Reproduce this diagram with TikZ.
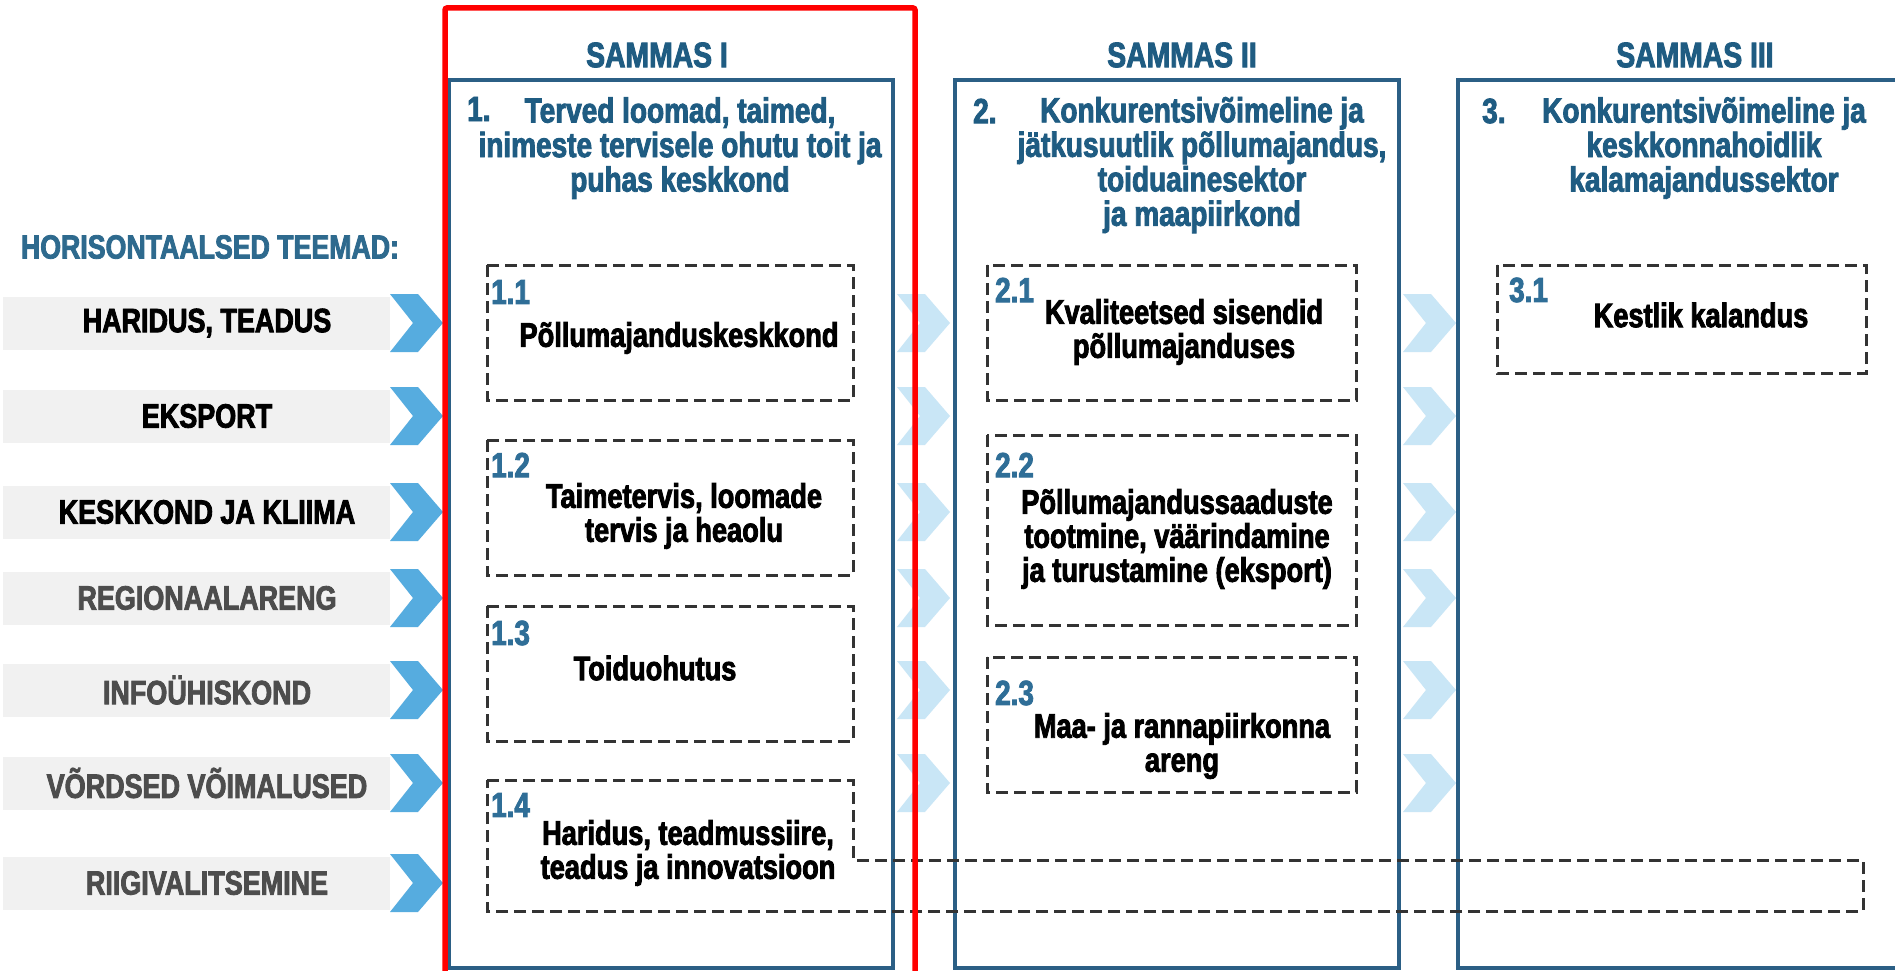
\documentclass[tikz,border=0pt]{standalone}
\usepackage{fontspec}
\newfontfamily\condfont{Liberation Sans}[FakeStretch=0.8, FakeBold=2.5]

\definecolor{pillarblue}{HTML}{2B5F85}
\definecolor{headblue}{HTML}{1F5C82}
\definecolor{topicblue}{HTML}{2E6A8E}
\definecolor{numblue}{HTML}{2F6E97}
\definecolor{chevblue}{HTML}{56ACDF}
\definecolor{chevpale}{HTML}{C9E6F6}
\definecolor{bandgray}{HTML}{F1F1F1}
\definecolor{dashgray}{HTML}{333333}
\definecolor{themegray}{HTML}{4D4D4D}

\begin{document}
\begin{tikzpicture}[x=1pt, y=-1pt,
	every node/.style={inner sep=0pt},
	pillar/.style={draw=pillarblue, line width=3.5pt},
	subbox/.style={draw=dashgray, line width=3pt, dash pattern=on 12pt off 6pt},
	chev/.style={fill=chevblue},
	palechev/.style={fill=chevpale},
	band/.style={fill=bandgray},
	theme/.style={text=#1, font=\condfont\bfseries\fontsize{33.7}{36}\selectfont},
	topic/.style={text=topicblue, font=\condfont\bfseries\fontsize{33.4}{36}\selectfont},
	head/.style={text=headblue, font=\condfont\bfseries\fontsize{35.4}{40}\selectfont},
	title/.style={text=headblue, align=center, font=\condfont\bfseries\fontsize{35}{34.5}\selectfont},
	num/.style={text=numblue, anchor=west, font=\condfont\bfseries\fontsize{34.8}{40}\selectfont},
	item/.style={align=center, font=\condfont\bfseries\fontsize{34}{34}\selectfont}]
	\useasboundingbox[fill=white] (0,0) rectangle (1895,971);

	% Horizontal themes, bands and chevrons:
	\fill[band] (3,297) rectangle (390,350);
	\fill[band] (3,390) rectangle (390,443);
	\fill[band] (3,486) rectangle (390,539);
	\fill[band] (3,572) rectangle (390,625);
	\fill[band] (3,664) rectangle (390,717);
	\fill[band] (3,757) rectangle (390,810);
	\fill[band] (3,857) rectangle (390,910);
	\fill[chev] (390,294) -- ++(28,0) -- ++(25,29) -- ++(-25,29) -- ++(-28,0) -- ++(23,-29) -- cycle;
	\fill[chev] (390,387) -- ++(28,0) -- ++(25,29) -- ++(-25,29) -- ++(-28,0) -- ++(23,-29) -- cycle;
	\fill[chev] (390,483) -- ++(28,0) -- ++(25,29) -- ++(-25,29) -- ++(-28,0) -- ++(23,-29) -- cycle;
	\fill[chev] (390,569) -- ++(28,0) -- ++(25,29) -- ++(-25,29) -- ++(-28,0) -- ++(23,-29) -- cycle;
	\fill[chev] (390,661) -- ++(28,0) -- ++(25,29) -- ++(-25,29) -- ++(-28,0) -- ++(23,-29) -- cycle;
	\fill[chev] (390,754) -- ++(28,0) -- ++(25,29) -- ++(-25,29) -- ++(-28,0) -- ++(23,-29) -- cycle;
	\fill[chev] (390,854) -- ++(28,0) -- ++(25,29) -- ++(-25,29) -- ++(-28,0) -- ++(23,-29) -- cycle;
	\draw node[topic] (HT) at (210,247) {HORISONTAALSED TEEMAD:};
	\draw node[theme=black] (T1) at (207,323) {HARIDUS, TEADUS};
	\draw node[theme=black] (T2) at (207,416) {EKSPORT};
	\draw node[theme=black] (T3) at (207,512) {KESKKOND JA KLIIMA};
	\draw node[theme=themegray] (T4) at (207,598) {REGIONAALARENG};
	\draw node[theme=themegray] (T5) at (207,690) {INFOÜHISKOND};
	\draw node[theme=themegray] (T6) at (207,783) {VÕRDSED VÕIMALUSED};
	\draw node[theme=themegray] (T7) at (207,883) {RIIGIVALITSEMINE};

	% Pale chevrons between pillars:
	\fill[palechev] (897,294) -- ++(28,0) -- ++(25,29) -- ++(-25,29) -- ++(-28,0) -- ++(23,-29) -- cycle;
	\fill[palechev] (897,387) -- ++(28,0) -- ++(25,29) -- ++(-25,29) -- ++(-28,0) -- ++(23,-29) -- cycle;
	\fill[palechev] (897,483) -- ++(28,0) -- ++(25,29) -- ++(-25,29) -- ++(-28,0) -- ++(23,-29) -- cycle;
	\fill[palechev] (897,569) -- ++(28,0) -- ++(25,29) -- ++(-25,29) -- ++(-28,0) -- ++(23,-29) -- cycle;
	\fill[palechev] (897,661) -- ++(28,0) -- ++(25,29) -- ++(-25,29) -- ++(-28,0) -- ++(23,-29) -- cycle;
	\fill[palechev] (897,754) -- ++(28,0) -- ++(25,29) -- ++(-25,29) -- ++(-28,0) -- ++(23,-29) -- cycle;
	\fill[palechev] (1403,294) -- ++(28,0) -- ++(25,29) -- ++(-25,29) -- ++(-28,0) -- ++(23,-29) -- cycle;
	\fill[palechev] (1403,387) -- ++(28,0) -- ++(25,29) -- ++(-25,29) -- ++(-28,0) -- ++(23,-29) -- cycle;
	\fill[palechev] (1403,483) -- ++(28,0) -- ++(25,29) -- ++(-25,29) -- ++(-28,0) -- ++(23,-29) -- cycle;
	\fill[palechev] (1403,569) -- ++(28,0) -- ++(25,29) -- ++(-25,29) -- ++(-28,0) -- ++(23,-29) -- cycle;
	\fill[palechev] (1403,661) -- ++(28,0) -- ++(25,29) -- ++(-25,29) -- ++(-28,0) -- ++(23,-29) -- cycle;
	\fill[palechev] (1403,754) -- ++(28,0) -- ++(25,29) -- ++(-25,29) -- ++(-28,0) -- ++(23,-29) -- cycle;

	% Pillars:
	\draw[pillar] (449,80) rectangle (893,968);
	\draw[pillar] (955,80) rectangle (1399,968);
	\draw[pillar] (1458,80) rectangle (1905,968);
	\draw node[head] (H1) at (657,55) {SAMMAS I};
	\draw node[head] (H2) at (1182,55) {SAMMAS II};
	\draw node[head] (H3) at (1695,55) {SAMMAS III};
	\draw node[title, anchor=west] (N1) at (467,109) {1.};
	\draw node[title] (P1) at (680,148) {Terved loomad, taimed,\\inimeste tervisele ohutu toit ja\\puhas keskkond};
	\draw node[title, anchor=west] (N2) at (973,111) {2.};
	\draw node[title] (P2) at (1202,165) {Konkurentsivõimeline ja\\jätkusuutlik põllumajandus,\\toiduainesektor\\ja maapiirkond};
	\draw node[title, anchor=west] (N3) at (1482,111) {3.};
	\draw node[title] (P3) at (1704,148) {Konkurentsivõimeline ja\\keskkonnahoidlik\\kalamajandussektor};

	% Sub-goals (dashed boxes):
	\draw[subbox] (487,265) rectangle (853,400);
	\draw[subbox] (487,440) rectangle (853,575);
	\draw[subbox] (487,606) rectangle (853,741);
	\draw[subbox] (487,780) -- (853,780) -- (853,860) -- (1863,860) -- (1863,911) -- (487,911) -- cycle;
	\draw[subbox] (987,265) rectangle (1356,400);
	\draw[subbox] (987,435) rectangle (1356,625);
	\draw[subbox] (987,657) rectangle (1356,792);
	\draw[subbox] (1497,265) rectangle (1866,373);
	\draw node[num] (S11n) at (491,292) {1.1};
	\draw node[item] (S11) at (679,338) {Põllumajanduskeskkond};
	\draw node[num] (S12n) at (491,465) {1.2};
	\draw node[item] (S12) at (684,516) {Taimetervis, loomade\\tervis ja heaolu};
	\draw node[num] (S13n) at (491,633) {1.3};
	\draw node[item] (S13) at (655,668) {Toiduohutus};
	\draw node[num] (S14n) at (491,805) {1.4};
	\draw node[item] (S14) at (688,853) {Haridus, teadmussiire,\\teadus ja innovatsioon};
	\draw node[num] (S21n) at (995,290) {2.1};
	\draw node[item] (S21) at (1184,332) {Kvaliteetsed sisendid\\põllumajanduses};
	\draw node[num] (S22n) at (995,465) {2.2};
	\draw node[item] (S22) at (1177,539) {Põllumajandussaaduste\\tootmine, väärindamine\\ja turustamine (eksport)};
	\draw node[num] (S23n) at (995,693) {2.3};
	\draw node[item] (S23) at (1182,746) {Maa- ja rannapiirkonna\\areng};
	\draw node[num] (S31n) at (1509,290) {3.1};
	\draw node[item] (S31) at (1701,315) {Kestlik kalandus};

	% Highlight of the first pillar:
	\draw[red, line width=5.5pt, rounded corners=2pt] (445,8) rectangle (915,990);
\end{tikzpicture}
\end{document}
